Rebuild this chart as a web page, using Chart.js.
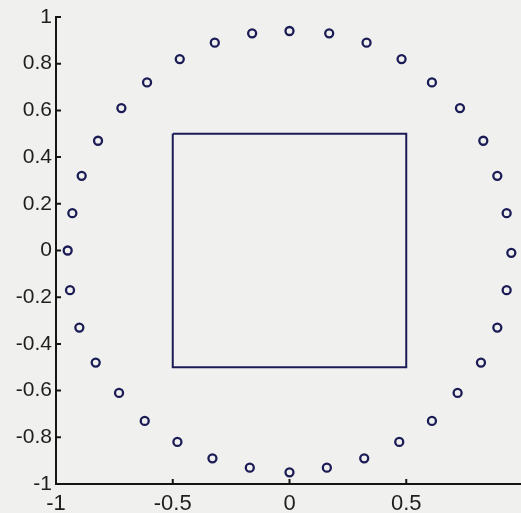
<!DOCTYPE html>
<html>
<head>
<meta charset="utf-8">
<script src="https://cdn.jsdelivr.net/npm/chart.js@4"></script>
<style>
  html, body { margin: 0; padding: 0; overflow: hidden; background: #f0f1ef; }
  #wrap { width: 530px; height: 513px; position: relative; }
</style>
</head>
<body>
<div id="wrap"><canvas id="c" width="530" height="513"></canvas></div>
<script>
// Circle markers
const circleX = [-0.95, -0.93, -0.89, -0.82, -0.72, -0.61, -0.47, -0.32, -0.16, 0.00, 0.17, 0.33, 0.48, 0.61, 0.73, 0.83, 0.89, 0.93, 0.95, 0.93, 0.89, 0.82, 0.72, 0.61, 0.47, 0.32, 0.16, 0.00, -0.17, -0.33, -0.48, -0.62, -0.73, -0.83, -0.90, -0.94];
const circleY = [0.00, 0.16, 0.32, 0.47, 0.61, 0.72, 0.82, 0.89, 0.93, 0.94, 0.93, 0.89, 0.82, 0.72, 0.61, 0.47, 0.32, 0.16, -0.01, -0.17, -0.33, -0.48, -0.61, -0.73, -0.82, -0.89, -0.93, -0.95, -0.93, -0.89, -0.82, -0.73, -0.61, -0.48, -0.33, -0.17];
// Square outline corners (closed)
const squareX = [-0.5, 0.5, 0.5, -0.5, -0.5];
const squareY = [0.5, 0.5, -0.5, -0.5, 0.5];
// Tick values and labels (the label at x = 1 is cut off in the picture)
const xTicks = [-1, -0.5, 0, 0.5, 1];
const xTickLabels = ['-1', '-0.5', '0', '0.5', ''];
const yTicks = [-1, -0.8, -0.6, -0.4, -0.2, 0, 0.2, 0.4, 0.6, 0.8, 1];
const yTickLabels = ['-1', '-0.8', '-0.6', '-0.4', '-0.2', '0', '0.2', '0.4', '0.6', '0.8', '1'];

const navy = '#1b1b55';
const axisColor = '#151515';

const circlePts = circleX.map((x, i) => ({ x: x, y: circleY[i] }));
const squarePts = squareX.map((x, i) => ({ x: x, y: squareY[i] }));

const inwardTicks = {
  id: 'inwardTicks',
  afterDraw(chart) {
    const ctx = chart.ctx;
    const xs = chart.scales.x, ys = chart.scales.y;
    const a = chart.chartArea;
    ctx.save();
    ctx.strokeStyle = axisColor;
    ctx.lineWidth = 2;
    ctx.beginPath();
    xTicks.forEach(v => {
      const p = xs.getPixelForValue(v);
      ctx.moveTo(p, a.bottom);
      ctx.lineTo(p, a.bottom - 5);
    });
    yTicks.forEach(v => {
      const p = ys.getPixelForValue(v);
      ctx.moveTo(a.left, p);
      ctx.lineTo(a.left + 5, p);
    });
    ctx.stroke();
    ctx.restore();
  }
};

new Chart(document.getElementById('c'), {
  type: 'scatter',
  data: {
    datasets: [
      {
        data: squarePts,
        showLine: true,
        borderColor: navy,
        borderWidth: 2,
        pointRadius: 0,
        fill: false,
        tension: 0
      },
      {
        data: circlePts,
        showLine: false,
        pointStyle: 'circle',
        pointRadius: 4,
        pointBorderWidth: 2.3,
        pointBorderColor: navy,
        pointBackgroundColor: 'rgba(0,0,0,0)'
      }
    ]
  },
  options: {
    responsive: false,
    animation: false,
    layout: { padding: { top: 17, right: 6, left: 0, bottom: 0 } },
    plugins: { legend: { display: false }, tooltip: { enabled: false } },
    scales: {
      x: {
        type: 'linear',
        min: -1, max: 1,
        afterBuildTicks: s => { s.ticks = xTicks.map(v => ({ value: v })); },
        afterFit: s => { s.height = 29; },
        grid: { display: true, drawOnChartArea: false, drawTicks: false },
        border: { display: true, color: axisColor, width: 2 },
        ticks: {
          color: '#1e1e1e',
          padding: 7,
          maxRotation: 0,
          font: { family: 'Liberation Sans, Arial, sans-serif', size: 22 },
          callback: (v, i) => xTickLabels[i]
        }
      },
      y: {
        type: 'linear',
        min: -1, max: 1,
        afterBuildTicks: s => { s.ticks = yTicks.map(v => ({ value: v })); },
        afterFit: s => { s.width = 56; },
        grid: { display: true, drawOnChartArea: false, drawTicks: false },
        border: { display: true, color: axisColor, width: 2 },
        ticks: {
          color: '#1e1e1e',
          padding: 4,
          font: { family: 'Liberation Sans, Arial, sans-serif', size: 21 },
          callback: (v, i) => yTickLabels[i]
        }
      }
    }
  },
  plugins: [inwardTicks]
});
</script>
</body>
</html>
